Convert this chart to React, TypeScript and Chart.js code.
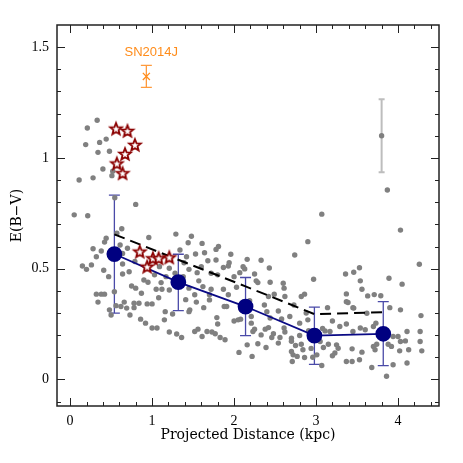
import React, { useEffect, useRef } from "react";
import { Chart, registerables } from "chart.js";
Chart.register(...registerables);

// Grey individual measurements
const greyX = [
  0.33, 0.21, 0.19, 0.36, 0.44, 0.34, 0.48, 0.11, 0.28, 0.40, 0.51, 0.52, 0.545, 0.80, 0.05, 0.215,
  0.63, 0.57, 0.44, 0.42, 0.28, 0.38, 0.32, 0.15, 0.20, 0.26, 0.41, 0.47, 0.61, 0.64, 0.70, 0.64,
  0.64, 0.72, 0.79, 0.96, 0.90, 0.95, 0.75, 0.80, 0.87, 0.54, 0.32, 0.38, 0.42, 1.05, 1.12, 1.21,
  1.08, 1.29, 1.44, 1.34, 1.42, 1.39, 1.09, 1.21, 1.28, 1.03, 1.11, 1.17, 1.38, 1.48, 0.34, 0.48,
  0.50, 0.56, 0.62, 0.66, 0.69, 0.73, 0.78, 0.84, 0.78, 0.94, 1.00, 0.86, 0.92, 1.00, 1.06, 1.16,
  1.15, 1.25, 1.21, 1.30, 1.36, 1.41, 1.45, 1.61, 1.78, 1.81, 1.53, 1.64, 1.96, 1.68, 1.78, 1.94,
  1.93, 1.87, 2.16, 2.33, 2.43, 2.11, 2.13, 2.25, 2.27, 2.29, 2.44, 1.45, 1.55, 1.60, 1.72, 1.80,
  2.00, 2.07, 1.57, 1.62, 1.72, 1.45, 1.52, 1.70, 1.87, 1.93, 2.03, 2.60, 2.61, 2.49, 2.74, 2.90,
  2.97, 2.82, 2.86, 2.62, 2.42, 1.46, 1.54, 1.63, 1.70, 1.79, 1.88, 1.91, 2.00, 2.05, 2.08, 2.09,
  2.19, 2.21, 2.21, 2.25, 2.23, 2.37, 2.40, 2.44, 2.38, 2.42, 2.33, 2.48, 2.46, 2.54, 2.58, 2.61,
  2.62, 2.56, 2.70, 2.70, 2.80, 2.75, 2.82, 2.84, 2.70, 2.72, 2.77, 2.86, 2.71, 1.56, 1.52, 1.61,
  1.67, 1.73, 1.77, 1.83, 1.89, 2.16, 2.29, 2.39, 2.06, 2.22, 2.54, 1.80, 3.07, 4.03, 4.26, 3.36,
  3.46, 3.53, 3.54, 3.56, 3.37, 3.63, 3.71, 3.79, 3.89, 4.05, 3.87, 3.37, 3.45, 3.90, 4.03, 4.28,
  3.11, 3.17, 3.20, 3.29, 3.37, 3.45, 3.54, 3.60, 3.70, 3.05, 3.09, 3.15, 3.25, 3.27, 3.23, 3.20,
  3.44, 3.56, 3.53, 3.37, 3.44, 3.68, 3.70, 3.72, 3.74, 3.88, 3.92, 3.94, 4.00, 4.03, 4.09, 4.11,
  4.02, 4.13, 4.27, 4.27, 4.29, 3.94, 4.11, 3.86, 3.07, 3.01, 3.14, 3.39, 3.46, 3.62, 3.73, 2.94,
  3.03, 2.91, 3.08, 2.96, 2.73, 2.68, 2.80, 2.90, 2.88,
];
const greyY = [
  1.17, 1.135, 1.06, 1.07, 1.085, 1.025, 1.03, 0.90, 0.91, 0.95, 0.92, 0.94, 0.82, 0.79, 0.743, 0.739,
  0.68, 0.66, 0.637, 0.62, 0.59, 0.58, 0.554, 0.512, 0.497, 0.517, 0.493, 0.464, 0.607, 0.569, 0.592, 0.521,
  0.476, 0.486, 0.532, 0.641, 0.449, 0.439, 0.422, 0.412, 0.389, 0.396, 0.385, 0.385, 0.385, 0.407, 0.407, 0.404,
  0.369, 0.656, 0.617, 0.584, 0.554, 0.527, 0.509, 0.502, 0.479, 0.472, 0.437, 0.464, 0.464, 0.646, 0.349, 0.314,
  0.291, 0.333, 0.329, 0.349, 0.322, 0.291, 0.344, 0.344, 0.324, 0.341, 0.341, 0.272, 0.254, 0.232, 0.232, 0.306,
  0.269, 0.295, 0.214, 0.205, 0.189, 0.36, 0.306, 0.614, 0.587, 0.60, 0.566, 0.572, 0.565, 0.536, 0.539, 0.527,
  0.512, 0.505, 0.542, 0.538, 0.503, 0.509, 0.499, 0.476, 0.445, 0.437, 0.439, 0.497, 0.482, 0.509, 0.479, 0.472,
  0.464, 0.482, 0.445, 0.419, 0.407, 0.412, 0.382, 0.382, 0.407, 0.382, 0.416, 0.434, 0.412, 0.385, 0.562, 0.622,
  0.452, 0.374, 0.385, 0.374, 0.374, 0.314, 0.349, 0.324, 0.359, 0.279, 0.329, 0.329, 0.264, 0.269, 0.272, 0.314,
  0.355, 0.284, 0.254, 0.227, 0.216, 0.336, 0.306, 0.277, 0.227, 0.234, 0.201, 0.206, 0.189, 0.309, 0.273, 0.232,
  0.214, 0.189, 0.186, 0.172, 0.198, 0.153, 0.159, 0.134, 0.126, 0.111, 0.104, 0.099, 0.081, 0.227, 0.216, 0.194,
  0.216, 0.214, 0.206, 0.189, 0.179, 0.156, 0.161, 0.144, 0.122, 0.104, 0.164, 0.25, 0.746, 0.674, 0.52, 0.476,
  0.484, 0.504, 0.445, 0.407, 0.386, 0.377, 0.383, 0.378, 0.457, 0.43, 0.855, 0.351, 0.324, 0.324, 0.314, 0.288,
  0.219, 0.216, 0.264, 0.239, 0.25, 0.216, 0.232, 0.224, 0.239, 0.171, 0.144, 0.159, 0.156, 0.141, 0.119, 0.107,
  0.138, 0.123, 0.089, 0.081, 0.081, 0.054, 0.149, 0.134, 0.159, 0.159, 0.149, 0.194, 0.194, 0.171, 0.174, 0.216,
  0.129, 0.134, 0.216, 0.171, 0.129, 0.066, 0.074, 0.014, 0.063, 0.111, 0.324, 0.347, 0.322, 0.299, 0.254, 0.14,
  0.20, 0.22, 0.23, 0.10, 0.336, 0.284, 0.254, 0.269, 0.30,
];

// Typical uncertainty marker (grey)
const errX = [3.8];
const errY = [1.1];
const errHi = [1.265];
const errLo = [0.935];

// Binned averages (blue)
const binX = [0.54, 1.32, 2.14, 2.98, 3.82];
const binY = [0.566, 0.439, 0.329, 0.198, 0.206];
const binHi = [0.832, 0.565, 0.46, 0.326, 0.351];
const binLo = [0.299, 0.311, 0.198, 0.068, 0.062];

// Dashed comparison curve
const dashY = [0.655, 0.54, 0.42, 0.295, 0.303];

// Stars
const starX = [0.56, 0.7, 0.79, 0.67, 0.57, 0.64, 0.85, 0.94, 1.01, 1.08, 1.21];
const starY = [1.132, 1.122, 1.059, 1.018, 0.975, 0.931, 0.577, 0.509, 0.547, 0.547, 0.551];

// SN2014J
const snX = [0.93];
const snY = [1.368];
const snHi = [1.418];
const snLo = [1.318];
const snLabel = "SN2014J";

// Axis ticks
const xTicks = [0, 1, 2, 3, 4];
const yTicks = [0, 0.5, 1, 1.5];
const xMinor = [0.2, 0.4, 0.6, 0.8, 1.2, 1.4, 1.6, 1.8, 2.2, 2.4, 2.6, 2.8, 3.2, 3.4, 3.6, 3.8, 4.2, 4.4];
const yMinor = [-0.1, 0.1, 0.2, 0.3, 0.4, 0.6, 0.7, 0.8, 0.9, 1.1, 1.2, 1.3, 1.4];

function makeStar(): HTMLCanvasElement {
  const c = document.createElement("canvas");
  c.width = 18;
  c.height = 18;
  const ctx = c.getContext("2d")!;
  ctx.beginPath();
  for (let i = 0; i < 10; i++) {
    const r = i % 2 === 0 ? 6.2 : 2.7;
    const a = -Math.PI / 2 + (i * Math.PI) / 5;
    ctx.lineTo(9 + r * Math.cos(a), 9.5 + r * Math.sin(a));
  }
  ctx.closePath();
  ctx.fillStyle = "#ffffff";
  ctx.fill();
  ctx.strokeStyle = "#8b0000";
  ctx.lineWidth = 1.8;
  ctx.stroke();
  return c;
}

const customPlugin = {
  id: "custom",
  beforeDatasetsDraw(chart: any) {
    const { ctx, scales } = chart;
    const xs = scales.x;
    const ys = scales.y;
    const bar = (xv: number, lo: number, hi: number, color: string, lw: number, cap: number) => {
      const px = xs.getPixelForValue(xv);
      const p1 = ys.getPixelForValue(lo);
      const p2 = ys.getPixelForValue(hi);
      ctx.save();
      ctx.strokeStyle = color;
      ctx.lineWidth = lw;
      ctx.beginPath();
      ctx.moveTo(px, p1);
      ctx.lineTo(px, p2);
      ctx.moveTo(px - cap, p1);
      ctx.lineTo(px + cap, p1);
      ctx.moveTo(px - cap, p2);
      ctx.lineTo(px + cap, p2);
      ctx.stroke();
      ctx.restore();
    };
    errX.forEach((v, i) => bar(v, errLo[i], errHi[i], "#bdbdbd", 2, 3));
    binX.forEach((v, i) => bar(v, binLo[i], binHi[i], "#4a4aa8", 1.3, 5.5));
    snX.forEach((v, i) => bar(v, snLo[i], snHi[i], "#ff9a3c", 1.3, 5.5));
  },
  afterDraw(chart: any) {
    const { ctx, chartArea, scales } = chart;
    const xs = scales.x;
    const ys = scales.y;
    const { left, right, top, bottom } = chartArea;
    ctx.save();
    ctx.strokeStyle = "#222";
    ctx.lineWidth = 1;
    ctx.beginPath();
    const drawX = (vals: number[], len: number) => {
      vals.forEach((v) => {
        const p = Math.round(xs.getPixelForValue(v)) + 0.5;
        ctx.moveTo(p, bottom);
        ctx.lineTo(p, bottom - len);
        ctx.moveTo(p, top);
        ctx.lineTo(p, top + len);
      });
    };
    const drawY = (vals: number[], len: number) => {
      vals.forEach((v) => {
        const p = Math.round(ys.getPixelForValue(v)) + 0.5;
        ctx.moveTo(left, p);
        ctx.lineTo(left + len, p);
        ctx.moveTo(right, p);
        ctx.lineTo(right - len, p);
      });
    };
    drawX(xTicks, 8);
    drawX(xMinor, 4);
    drawY(yTicks, 8);
    drawY(yMinor, 4);
    ctx.stroke();
    ctx.lineWidth = 1.5;
    ctx.strokeRect(left, top, right - left, bottom - top);
    ctx.fillStyle = "#ff8c1a";
    ctx.font = '13px "Liberation Sans"';
    ctx.textAlign = "center";
    ctx.textBaseline = "middle";
    ctx.fillText(snLabel, xs.getPixelForValue(0.99), ys.getPixelForValue(1.476));
    ctx.restore();
  },
};

export default function App() {
  const ref = useRef<HTMLCanvasElement>(null);
  useEffect(() => {
    if (!ref.current) return;
    const star = makeStar();
    const chart = new Chart(ref.current, {
      type: "scatter",
      data: {
        datasets: [
          {
            label: "stars",
            data: starX.map((x, i) => ({ x, y: starY[i] })),
            pointStyle: star as any,
            pointRadius: 7,
            order: 0,
          },
          {
            label: "SN2014J",
            data: snX.map((x, i) => ({ x, y: snY[i] })),
            pointStyle: "crossRot",
            pointRadius: 5,
            borderColor: "#ff8c1a",
            borderWidth: 1.3,
            order: 1,
          },
          {
            label: "bins",
            data: binX.map((x, i) => ({ x, y: binY[i] })),
            showLine: true,
            borderColor: "#0a0a85",
            borderWidth: 1.8,
            backgroundColor: "#000080",
            pointBackgroundColor: "#000080",
            pointBorderColor: "#000080",
            pointRadius: 7,
            order: 2,
          },
          {
            label: "dashed",
            data: binX.map((x, i) => ({ x, y: dashY[i] })),
            showLine: true,
            borderColor: "#000",
            borderWidth: 2,
            borderDash: [11, 6],
            pointRadius: 0,
            order: 3,
          },
          {
            label: "err",
            data: errX.map((x, i) => ({ x, y: errY[i] })),
            pointRadius: 2.7,
            backgroundColor: "#7f7f7f",
            borderWidth: 0,
            order: 4,
          },
          {
            label: "grey",
            data: greyX.map((x, i) => ({ x, y: greyY[i] })),
            pointRadius: 2.7,
            backgroundColor: "#808080",
            borderWidth: 0,
            order: 5,
          },
        ],
      },
      options: {
        animation: false,
        responsive: false,
        maintainAspectRatio: false,
        layout: { padding: { top: 25, right: 24, left: 0, bottom: 0 } },
        plugins: { legend: { display: false }, tooltip: { enabled: false } },
        scales: {
          x: {
            type: "linear",
            min: -0.16,
            max: 4.5,
            afterBuildTicks: (s: any) => {
              s.ticks = xTicks.map((v) => ({ value: v }));
            },
            afterFit: (s: any) => {
              s.height = 57;
            },
            grid: { display: false, drawTicks: false },
            border: { display: false },
            ticks: {
              padding: 7,
              color: "#000",
              font: { family: "Liberation Serif", size: 14 },
              callback: (v: any) => String(v),
            },
            title: {
              display: true,
              text: "Projected Distance (kpc)",
              color: "#000",
              font: { family: "DejaVu Serif", size: 14 },
              padding: { top: 0, bottom: 19.5 },
            },
          },
          y: {
            type: "linear",
            min: -0.12,
            max: 1.6,
            afterBuildTicks: (s: any) => {
              s.ticks = yTicks.map((v) => ({ value: v }));
            },
            afterFit: (s: any) => {
              s.width = 57;
            },
            grid: { display: false, drawTicks: false },
            border: { display: false },
            ticks: {
              padding: 8,
              color: "#000",
              font: { family: "Liberation Serif", size: 14 },
              callback: (v: any) => String(v),
            },
            title: {
              display: true,
              text: "E(B\u2212V)",
              color: "#000",
              font: { family: "DejaVu Serif", size: 14 },
              padding: { top: 8.5, bottom: 0 },
            },
          },
        },
      },
      plugins: [customPlugin],
    });
    return () => chart.destroy();
  }, []);
  return (
    <div style={{ position: "fixed", left: 0, top: 0, width: 463, height: 463, background: "#fff" }}>
      <canvas ref={ref} width={463} height={463} style={{ display: "block" }} />
    </div>
  );
}
